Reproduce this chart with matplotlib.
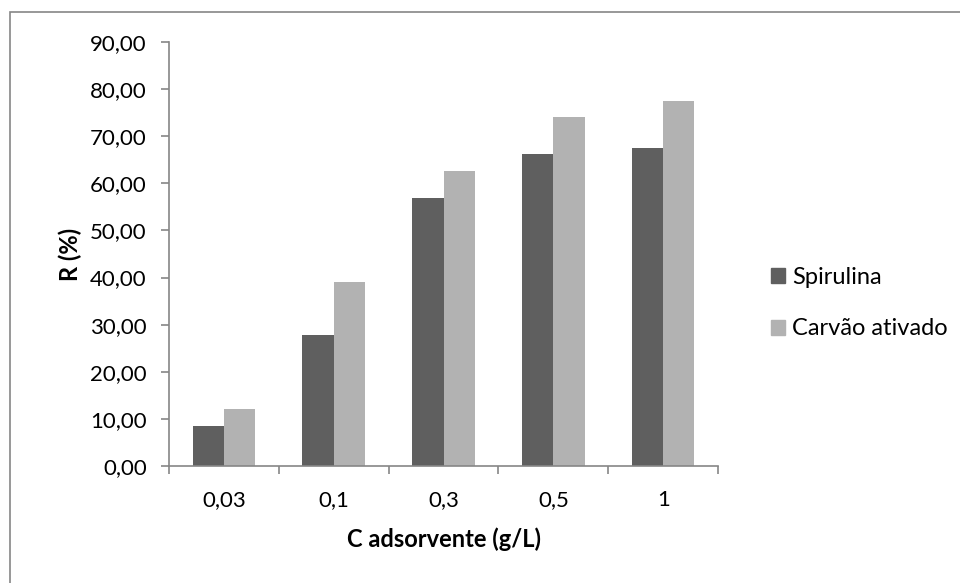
import matplotlib
matplotlib.use('Agg')
from matplotlib import pyplot as plt
from matplotlib.patches import Rectangle, Patch
import numpy as np

# adsorbent dose (g/L) and removal (%)
doses = ['0,03', '0,1', '0,3', '0,5', '1']
spirulina = [8.4, 27.7, 56.9, 66.3, 67.6]
carvao = [12.1, 39.1, 62.6, 74.0, 77.5]

dark = '#5f5f5f'
light = '#b2b2b2'
axis_gray = '#868686'

plt.rcParams['font.family'] = ['Lato', 'DejaVu Sans']
plt.rcParams['font.size'] = 16

fig = plt.figure(figsize=(9.6, 5.83), dpi=100)
ax = fig.add_axes([0.176, 0.2007, 0.572, 0.7273])

# chart frame
fig.patches.append(Rectangle((10 / 960, -0.05), 1.1, 1 - 12 / 583 + 0.05,
                             transform=fig.transFigure, fill=False,
                             edgecolor=axis_gray, linewidth=1.2))

x = np.arange(len(doses))
w = 0.285
ax.bar(x - w / 2, spirulina, w, color=dark)
ax.bar(x + w / 2, carvao, w, color=light)

ax.set_xlim(-0.5, len(doses) - 0.5)
ax.set_ylim(0, 90)
ax.set_yticks(np.arange(0, 91, 10))
ax.set_yticklabels(['%d,00' % v for v in range(0, 91, 10)])

ax.set_xticks(x)
ax.set_xticklabels(doses)
ax.set_xticks(np.arange(-0.5, len(doses), 1), minor=True)
ax.tick_params(axis='x', which='major', length=0, pad=17)
ax.tick_params(axis='x', which='minor', length=6, color=axis_gray, width=1.2)
ax.tick_params(axis='y', length=6, color=axis_gray, width=1.2, pad=10)

for s in ['top', 'right']:
    ax.spines[s].set_visible(False)
for s in ['left', 'bottom']:
    ax.spines[s].set_color(axis_gray)
    ax.spines[s].set_linewidth(1.2)

ax.set_xlabel('C adsorvente (g/L)', fontweight='bold', fontsize=17,
              labelpad=13)
ax.set_ylabel('R (%)', fontweight='bold', fontsize=17, labelpad=6)

handles = [Patch(color=dark, label='Spirulina'),
           Patch(color=light, label='Carvão ativado')]
fig.legend(handles=handles, loc='center left',
           bbox_to_anchor=(750 / 960, 1 - 303 / 583), frameon=False,
           fontsize=17, handlelength=0.6, handleheight=0.6,
           handletextpad=0.3, labelspacing=1.3)

fig.savefig('out.png', dpi=100)
